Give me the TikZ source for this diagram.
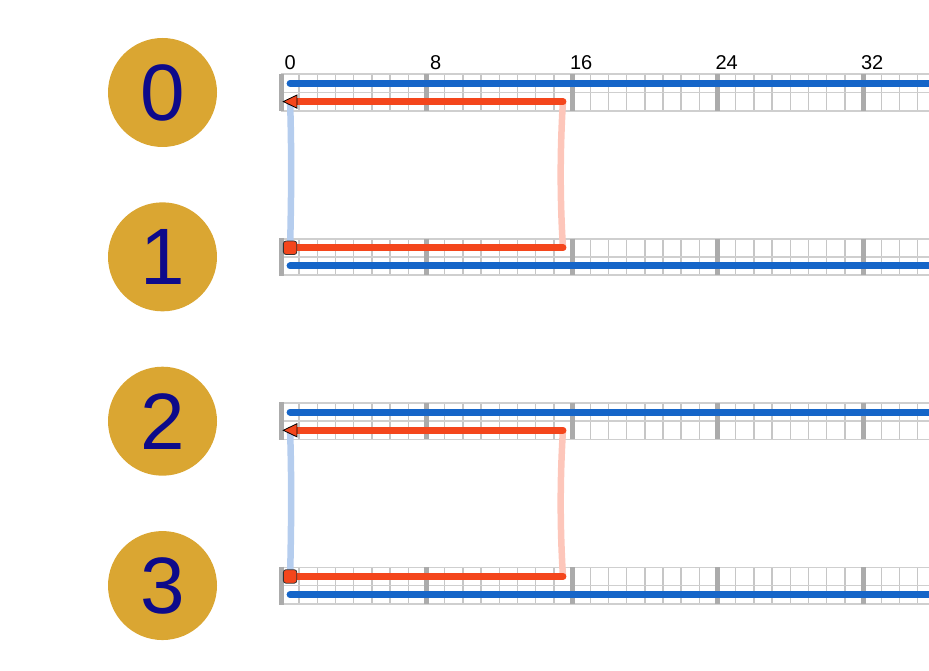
\documentclass[tikz,border=0pt]{standalone}
\usepackage{fontspec}
\setmainfont{Liberation Sans}
\definecolor{gold}{HTML}{DAA632}
\definecolor{navy}{HTML}{0D0A8A}
\definecolor{lineblue}{HTML}{1565C8}
\definecolor{linered}{HTML}{F4461C}
\definecolor{connblue}{HTML}{B5CDEE}
\definecolor{connred}{HTML}{FDC6BA}
\definecolor{minorgray}{HTML}{C6C6C6}
\definecolor{hgray}{HTML}{CFCFCF}
\definecolor{majorgray}{HTML}{ABABAB}
\begin{document}
\begin{tikzpicture}[x=1pt,y=-1pt,
  numcircle/.style={circle, fill=gold, minimum size=109pt, inner sep=0pt, text=navy, font=\fontsize{80}{80}\selectfont},
  ticklabel/.style={anchor=base, inner sep=0pt, font=\fontsize{20}{20}\selectfont},
  hline/.style={draw=hgray, line width=1.7pt},
  minorline/.style={draw=minorgray, line width=1.4pt},
  majorline/.style={draw=majorgray, line width=5pt},
  blueline/.style={draw=lineblue, line width=7pt, line cap=round},
  redline/.style={draw=linered, line width=7pt, line cap=round},
  bconn/.style={draw=connblue, line width=6.5pt},
  rconn/.style={draw=connred, line width=6.5pt},
  trimark/.style={fill=linered, draw=black, line width=0.8pt, line join=miter},
  sqmark/.style={rectangle, rounded corners=2.5pt, minimum size=13.4pt, inner sep=0pt, fill=linered, draw=black!80, line width=0.8pt}
]
\useasboundingbox (0,0) rectangle (929,670);
\clip (0,0) rectangle (929,670);
\def\u{18.19}
\def\xo{281}
% grids
\foreach \i in {0,...,3} {
  \pgfmathsetmacro\yt{74.3+164.35*\i}
  \foreach \k in {1,...,36} {
    \draw[minorline] (\xo+\k*\u,\yt) -- ++(0,2*\u);
  }
  \foreach \j in {0,1,2} {
    \draw[hline] (\xo,\yt+\j*\u) -- (940,\yt+\j*\u);
  }
  \foreach \k in {8,16,24,32} {
    \draw[majorline] (\xo+\k*\u,\yt) -- ++(0,2*\u);
  }
  \draw[majorline] (\xo,\yt-0.8) -- ++(0,2*\u+1.6);
  \node[numcircle] (c\i) at (162.5,\yt+\u) {\i};
}
% tick labels
\foreach \k in {0,8,16,24,32} {
  \node[ticklabel] (t\k) at (\xo+\k*\u+0.5*\u,69.3) {\k};
}
% named coordinates
\foreach \i in {0,...,3} {
  \pgfmathsetmacro\yt{74.3+164.35*\i}
  \pgfmathtruncatemacro\odd{mod(\i,2)}
  \ifnum\odd=0
    \coordinate (bs\i) at (\xo+0.5*\u,\yt+0.5*\u);
    \coordinate (be\i) at (945,\yt+0.5*\u);
    \coordinate (rs\i) at (\xo+0.5*\u,\yt+1.5*\u);
    \coordinate (re\i) at (\xo+15.5*\u,\yt+1.5*\u);
  \else
    \coordinate (rs\i) at (\xo+0.5*\u,\yt+0.5*\u);
    \coordinate (re\i) at (\xo+15.5*\u,\yt+0.5*\u);
    \coordinate (bs\i) at (\xo+0.5*\u,\yt+1.5*\u);
    \coordinate (be\i) at (945,\yt+1.5*\u);
  \fi
}
% connectors
\draw[bconn] (rs0) .. controls +(1.6,50) and +(1.2,-50) .. (rs1);
\draw[rconn] (re0) .. controls +(-3,50) and +(-3,-50) .. (re1);
\draw[bconn] (rs2) .. controls +(1.6,50) and +(1.2,-50) .. (rs3);
\draw[rconn] (re2) .. controls +(-3,50) and +(-3,-50) .. (re3);
% lines
\foreach \i in {0,...,3} {
  \draw[blueline] (bs\i) -- (be\i);
  \draw[redline] (rs\i) -- (re\i);
}
% markers
\draw[trimark] (rs0) ++(6.9,-6.6) -- ++(-13.7,6.6) -- ++(13.7,6.6) -- cycle;
\draw[trimark] (rs2) ++(6.9,-6.6) -- ++(-13.7,6.6) -- ++(13.7,6.6) -- cycle;
\node[sqmark] (m1) at (rs1) {};
\node[sqmark] (m3) at (rs3) {};
\end{tikzpicture}
\end{document}
